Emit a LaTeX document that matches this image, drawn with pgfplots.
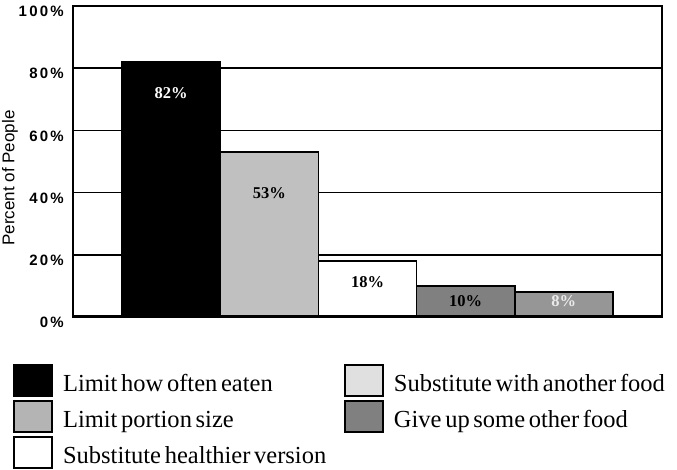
\documentclass[border=0pt]{standalone}
\usepackage{pgfplots}
\pgfplotsset{compat=1.18}
\usepackage{fontspec}
\setmainfont{Liberation Serif}[WordSpace=0.6]
\newfontfamily\sansfont{Liberation Sans}
\newfontfamily\tickfont{Liberation Sans}[LetterSpace=15]
\definecolor{portion}{HTML}{C0C0C0}
\definecolor{giveup}{HTML}{808080}
\definecolor{another}{HTML}{969696}
\definecolor{legportion}{HTML}{B4B4B4}
\definecolor{leganother}{HTML}{E0E0E0}

\begin{document}
\begin{tikzpicture}
\useasboundingbox (-73pt,-153pt) rectangle (604pt,317pt);
\begin{axis}[
    at={(0pt,0pt)}, anchor=south west,
    scale only axis,
    width=589pt,
    height=311pt,
    xmin=0, xmax=6,
    ymin=0, ymax=100,
    xtick=\empty,
    ytick={0,20,40,60,80,100},
    yticklabel={\tickfont\bfseries\fontsize{15}{15}\selectfont\pgfmathprintnumber{\tick}\%},
    /pgf/number format/assume math mode=true,
    yticklabel style={yshift=-5.5pt, anchor=east, inner sep=0pt, xshift=-9pt},
    ylabel={\sansfont\fontsize{17}{17}\selectfont Percent of People},
    ylabel style={at={(axis description cs:-0.093,0.447)}, anchor=south, inner sep=0pt},
    major tick length=0pt,
    ymajorgrids,
    grid style={black, line width=1.5pt},
    axis line style={line width=1.8pt},
    ybar,
    bar width=1,
    bar shift=0pt,
    nodes near coords={\pgfmathprintnumber{\pgfplotspointmeta}\%},
    nodes near coords style={font=\bfseries\fontsize{16.5}{16.5}\selectfont, anchor=center},
    legend columns=2,
    legend style={
        at={(axis description cs:-0.1019,-0.1447)},
        anchor=north west,
        draw=none, fill=none,
        inner sep=0pt,
        row sep=0pt,
        font=\fontsize{24.5}{25}\selectfont,
        nodes={inner sep=0pt, anchor=base west},
        /tikz/every even column/.append style={column sep=0pt},
    },
    legend image code/.code={
        \draw[#1, draw=black, line width=1.8pt] (0pt,-4pt) rectangle (38pt,27pt);
        \path[draw=none, fill=none] (0pt,-6.5pt) rectangle (49pt,29.5pt);
    },
]
\addplot[fill=black, draw=black, line width=1.5pt, forget plot,
    nodes near coords style={text=white, yshift=-31pt}] coordinates {(1,82)};
\addplot[fill=portion, draw=black, line width=1.5pt, forget plot,
    nodes near coords style={text=black, yshift=-41pt}] coordinates {(2,53)};
\addplot[fill=white, draw=black, line width=1.5pt, forget plot,
    nodes near coords style={text=black, yshift=-21pt}] coordinates {(3,18)};
\addplot[fill=giveup, draw=black, line width=1.5pt, forget plot,
    nodes near coords style={text=black, yshift=-15pt}] coordinates {(4,10)};
\addplot[fill=another, draw=black, line width=1.5pt, forget plot,
    nodes near coords style={text=black!8, yshift=-9pt}] coordinates {(5,8)};
\draw[line width=4pt] (rel axis cs:0,0) -- (rel axis cs:1,0);

\addlegendimage{fill=black}
\addlegendentry{\makebox[281pt][l]{Limit how often eaten}}
\addlegendimage{fill=leganother}
\addlegendentry{Substitute with another food}
\addlegendimage{fill=legportion}
\addlegendentry{\makebox[281pt][l]{Limit portion size}}
\addlegendimage{fill=giveup}
\addlegendentry{Give up some other food}
\addlegendimage{fill=white}
\addlegendentry{\makebox[281pt][l]{Substitute healthier version}}
\end{axis}
\end{tikzpicture}
\end{document}
